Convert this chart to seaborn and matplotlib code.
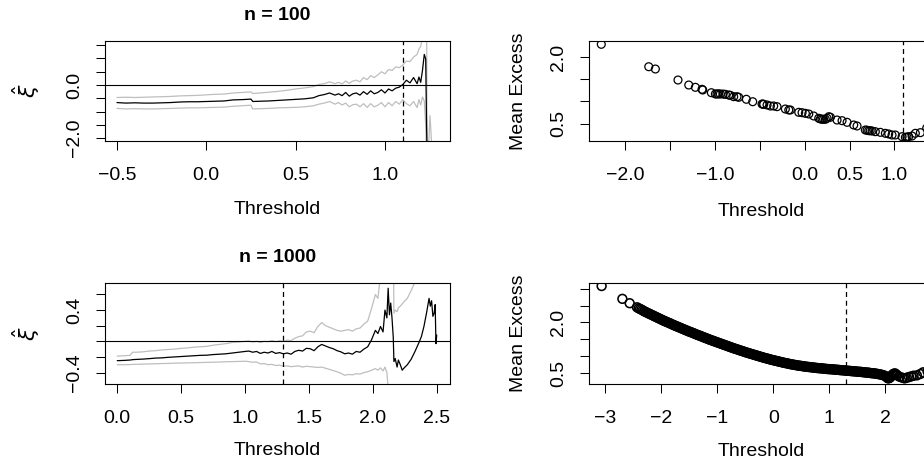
import matplotlib
matplotlib.use("Agg")
import matplotlib.pyplot as plt
import seaborn as sns

# ---------------- data: n = 100, shape-parameter stability ----------------
thr100 = [-0.50, -0.45, -0.40, -0.35, -0.30, -0.25, -0.20, -0.15, -0.10, -0.05,
          0.00, 0.05, 0.10, 0.15, 0.20, 0.25, 0.26, 0.30, 0.35, 0.40,
          0.45, 0.50, 0.55, 0.60, 0.63, 0.66, 0.69, 0.72, 0.74, 0.76,
          0.78, 0.80, 0.82, 0.84, 0.86, 0.88, 0.90, 0.92, 0.94, 0.96,
          0.98, 1.00, 1.02, 1.04, 1.06, 1.08, 1.10, 1.12, 1.14, 1.16,
          1.18, 1.19, 1.20, 1.21, 1.22, 1.228, 1.233, 1.236, 1.252, 1.268,
          1.29]
xi100 = [-0.66, -0.68, -0.67, -0.68, -0.68, -0.67, -0.66, -0.64, -0.63, -0.63,
         -0.62, -0.61, -0.60, -0.56, -0.55, -0.53, -0.62, -0.61, -0.60, -0.58,
         -0.56, -0.54, -0.52, -0.48, -0.40, -0.36, -0.30, -0.38, -0.33, -0.40,
         -0.28, -0.42, -0.33, -0.30, -0.38, -0.25, -0.35, -0.22, -0.33, -0.28,
         -0.18, -0.30, -0.15, -0.22, -0.12, -0.08, 0.02, 0.18, 0.08, 0.28,
         0.05, 0.30, 0.10, 0.55, 1.15, 0.98, -1.60, -2.60, -3.50, -4.00,
         -4.50]
up100 = [-0.47, -0.46, -0.47, -0.46, -0.45, -0.44, -0.43, -0.41, -0.40, -0.39,
         -0.37, -0.35, -0.34, -0.30, -0.28, -0.26, -0.32, -0.30, -0.27, -0.24,
         -0.20, -0.15, -0.11, -0.06, 0.02, 0.05, 0.12, 0.05, 0.10, 0.04,
         0.15, 0.06, 0.15, 0.18, 0.12, 0.28, 0.20, 0.35, 0.28, 0.38,
         0.50, 0.42, 0.58, 0.55, 0.68, 0.65, 0.75, 0.90, 0.88, 1.05,
         1.15, 1.35, 1.45, 1.80, 2.40, 2.60, 2.80, -3.50, -1.15, -3.00,
         -4.00]
lo100 = [-0.88, -0.90, -0.89, -0.90, -0.90, -0.89, -0.88, -0.87, -0.86, -0.86,
         -0.85, -0.84, -0.83, -0.80, -0.78, -0.76, -0.90, -0.89, -0.88, -0.86,
         -0.85, -0.84, -0.82, -0.78, -0.72, -0.68, -0.62, -0.72, -0.66, -0.75,
         -0.68, -0.82, -0.74, -0.72, -0.82, -0.70, -0.84, -0.70, -0.82, -0.76,
         -0.66, -0.82, -0.66, -0.78, -0.62, -0.72, -0.55, -0.70, -0.78, -0.62,
         -0.85, -0.55, -0.75, -0.45, -0.60, -1.50, -3.00, -4.00, -5.00, -5.50,
         -6.00]
u0_100 = 1.10

# ---------------- data: n = 100, mean excess ----------------
me100_u = [-2.268, -1.739, -1.665, -1.413, -1.293, -1.219, -1.145, -1.137, -1.041, -0.996,
           -0.978, -0.960, -0.941, -0.910, -0.885, -0.848, -0.830, -0.792, -0.755, -0.736,
           -0.651, -0.580, -0.476, -0.465, -0.457, -0.420, -0.383, -0.346, -0.309, -0.216,
           -0.178, -0.160, -0.067, -0.030, 0.007, 0.045, 0.100, 0.156, 0.175, 0.193,
           0.210, 0.230, 0.249, 0.268, 0.286, 0.360, 0.416, 0.472, 0.546, 0.583,
           0.676, 0.695, 0.713, 0.730, 0.750, 0.787, 0.843, 0.899, 0.936, 0.973,
           1.010, 1.085, 1.122, 1.140, 1.159, 1.196, 1.233, 1.289, 1.360]
me100_e = [2.294, 1.787, 1.735, 1.486, 1.373, 1.321, 1.276, 1.260, 1.199, 1.170,
           1.170, 1.172, 1.170, 1.168, 1.162, 1.147, 1.140, 1.109, 1.109, 1.095,
           1.050, 0.995, 0.943, 0.940, 0.936, 0.921, 0.898, 0.898, 0.883, 0.830,
           0.808, 0.808, 0.755, 0.747, 0.732, 0.717, 0.672, 0.620, 0.605, 0.597,
           0.600, 0.597, 0.620, 0.656, 0.643, 0.581, 0.566, 0.529, 0.468, 0.446,
           0.355, 0.350, 0.340, 0.338, 0.333, 0.317, 0.302, 0.280, 0.265, 0.242,
           0.242, 0.204, 0.189, 0.195, 0.204, 0.219, 0.280, 0.295, 0.400]

# ---------------- data: n = 1000, shape-parameter stability ----------------
thr1000 = [0.00, 0.05, 0.10, 0.12, 0.15, 0.20, 0.25, 0.30, 0.35, 0.40,
           0.45, 0.50, 0.55, 0.60, 0.65, 0.70, 0.75, 0.80, 0.85, 0.90,
           0.95, 1.00, 1.03, 1.06, 1.09, 1.12, 1.15, 1.18, 1.21, 1.24,
           1.27, 1.30, 1.33, 1.36, 1.39, 1.42, 1.45, 1.48, 1.51, 1.54,
           1.57, 1.60, 1.63, 1.66, 1.69, 1.72, 1.75, 1.78, 1.81, 1.84,
           1.87, 1.90, 1.93, 1.96, 1.99, 2.02, 2.04, 2.06, 2.08, 2.095,
           2.11, 2.12, 2.13, 2.14, 2.15, 2.16, 2.165, 2.175, 2.19, 2.20,
           2.215, 2.23, 2.24, 2.27, 2.30, 2.33, 2.36, 2.38, 2.40, 2.42,
           2.44, 2.45, 2.46, 2.47, 2.48, 2.488, 2.494, 2.50]
xi1000 = [-0.248, -0.245, -0.240, -0.235, -0.232, -0.228, -0.222, -0.215, -0.212, -0.205,
          -0.200, -0.195, -0.190, -0.185, -0.180, -0.178, -0.170, -0.165, -0.160, -0.150,
          -0.140, -0.130, -0.125, -0.140, -0.130, -0.155, -0.140, -0.150, -0.130, -0.155,
          -0.145, -0.160, -0.150, -0.165, -0.130, -0.115, -0.125, -0.090, -0.095, -0.120,
          -0.070, -0.040, -0.060, -0.080, -0.095, -0.120, -0.135, -0.160, -0.150, -0.165,
          -0.130, -0.140, -0.100, -0.070, 0.020, 0.140, 0.100, 0.190, 0.120, 0.400,
          0.300, 0.680, 0.340, 0.490, 0.300, 0.050, -0.260, -0.220, -0.330, -0.240,
          -0.300, -0.370, -0.350, -0.300, -0.230, -0.130, -0.020, 0.060, 0.190, 0.360,
          0.550, 0.450, 0.520, 0.320, 0.360, 0.470, -0.030, 0.080]
up1000 = [-0.190, -0.185, -0.180, -0.140, -0.140, -0.135, -0.125, -0.120, -0.110, -0.105,
          -0.100, -0.090, -0.085, -0.075, -0.070, -0.065, -0.050, -0.040, -0.030, -0.015,
          -0.010, 0.000, 0.005, -0.010, 0.000, -0.015, 0.000, -0.005, 0.010, -0.005,
          0.008, 0.000, 0.015, 0.010, 0.040, 0.060, 0.070, 0.120, 0.130, 0.110,
          0.190, 0.240, 0.200, 0.180, 0.160, 0.140, 0.130, 0.140, 0.150, 0.130,
          0.160, 0.170, 0.220, 0.260, 0.420, 0.600, 0.550, 0.850, 1.200, 2.500,
          2.000, 3.000, 2.000, 2.500, 2.000, 1.500, 0.360, 0.400, 0.380, 0.430,
          0.450, 0.480, 0.500, 0.550, 0.650, 0.760, 0.950, 1.100, 1.300, 1.600,
          2.000, 1.900, 2.000, 1.700, 1.800, 1.900, 1.000, 1.200]
lo1000 = [-0.300, -0.300, -0.298, -0.296, -0.295, -0.292, -0.290, -0.288, -0.285, -0.283,
          -0.280, -0.278, -0.276, -0.275, -0.272, -0.270, -0.268, -0.265, -0.262, -0.260,
          -0.258, -0.255, -0.260, -0.268, -0.265, -0.290, -0.285, -0.300, -0.295, -0.310,
          -0.305, -0.320, -0.315, -0.325, -0.320, -0.315, -0.330, -0.320, -0.325, -0.330,
          -0.335, -0.330, -0.345, -0.360, -0.375, -0.390, -0.410, -0.435, -0.425, -0.430,
          -0.415, -0.420, -0.400, -0.390, -0.370, -0.350, -0.370, -0.340, -0.380, -0.330,
          -0.400, -0.600, -0.900, -1.100, -1.200, -1.300, -1.400, -1.500, -1.600, -1.700,
          -1.800, -1.900, -2.000, -2.100, -2.200, -2.300, -2.400, -2.500, -2.600, -2.700,
          -2.800, -2.900, -3.000, -3.100, -3.200, -3.300, -3.400, -3.500]
u0_1000 = 1.30

# ---------------- data: n = 1000, mean excess ----------------
me1000_u = [-3.06, -2.69, -2.56, -2.43,
            -2.400, -2.375, -2.350, -2.325, -2.300, -2.275, -2.250, -2.225, -2.200, -2.175,
            -2.150, -2.125, -2.100, -2.075, -2.050, -2.025, -2.000, -1.975, -1.950, -1.925,
            -1.900, -1.875, -1.850, -1.825, -1.800, -1.775, -1.750, -1.725, -1.700, -1.675,
            -1.650, -1.625, -1.600, -1.575, -1.550, -1.525, -1.500, -1.475, -1.450, -1.425,
            -1.400, -1.375, -1.350, -1.325, -1.300, -1.275, -1.250, -1.225, -1.200, -1.175,
            -1.150, -1.125, -1.100, -1.075, -1.050, -1.025, -1.000, -0.975, -0.950, -0.925,
            -0.900, -0.875, -0.850, -0.825, -0.800, -0.775, -0.750, -0.725, -0.700, -0.675,
            -0.650, -0.625, -0.600, -0.575, -0.550, -0.525, -0.500, -0.475, -0.450, -0.425,
            -0.400, -0.375, -0.350, -0.325, -0.300, -0.275, -0.250, -0.225, -0.200, -0.175,
            -0.150, -0.125, -0.100, -0.075, -0.050, -0.025, 0.000, 0.025, 0.050, 0.075,
            0.100, 0.125, 0.150, 0.175, 0.200, 0.225, 0.250, 0.275, 0.300, 0.325,
            0.350, 0.375, 0.400, 0.425, 0.450, 0.475, 0.500, 0.525, 0.550, 0.575,
            0.600, 0.625, 0.650, 0.675, 0.700, 0.725, 0.750, 0.775, 0.800, 0.825,
            0.850, 0.875, 0.900, 0.925, 0.950, 0.975, 1.000, 1.025, 1.050, 1.075,
            1.100, 1.125, 1.150, 1.175, 1.200, 1.225, 1.250, 1.275, 1.300, 1.325,
            1.350, 1.375, 1.400, 1.425, 1.450, 1.475, 1.500, 1.525, 1.550, 1.575,
            1.600, 1.625, 1.650, 1.675, 1.700, 1.725, 1.750, 1.775, 1.800, 1.825,
            1.850, 1.875, 1.900, 1.925, 1.950, 1.975, 2.000,
            2.02, 2.04, 2.05, 2.07, 2.09, 2.11, 2.13, 2.15, 2.17, 2.19,
            2.21, 2.25, 2.30, 2.34, 2.38, 2.42, 2.46, 2.50, 2.56, 2.62,
            2.67, 2.75]
me1000_e = [3.08, 2.70, 2.57, 2.45,
            2.420, 2.400, 2.380, 2.355, 2.330, 2.310, 2.290, 2.270, 2.250, 2.230,
            2.210, 2.190, 2.170, 2.150, 2.130, 2.110, 2.090, 2.070, 2.050, 2.032,
            2.015, 1.997, 1.980, 1.960, 1.940, 1.922, 1.905, 1.887, 1.870, 1.852,
            1.835, 1.817, 1.800, 1.782, 1.765, 1.747, 1.730, 1.715, 1.700, 1.682,
            1.665, 1.647, 1.630, 1.615, 1.600, 1.582, 1.565, 1.550, 1.535, 1.517,
            1.500, 1.485, 1.470, 1.455, 1.440, 1.425, 1.410, 1.395, 1.380, 1.365,
            1.350, 1.335, 1.320, 1.305, 1.290, 1.275, 1.260, 1.245, 1.230, 1.217,
            1.205, 1.190, 1.175, 1.162, 1.150, 1.135, 1.120, 1.107, 1.095, 1.082,
            1.070, 1.057, 1.045, 1.032, 1.020, 1.007, 0.995, 0.982, 0.970, 0.957,
            0.945, 0.935, 0.925, 0.912, 0.900, 0.890, 0.880, 0.870, 0.860, 0.850,
            0.840, 0.830, 0.820, 0.810, 0.800, 0.792, 0.785, 0.775, 0.765, 0.757,
            0.750, 0.742, 0.735, 0.727, 0.720, 0.715, 0.710, 0.702, 0.695, 0.690,
            0.685, 0.680, 0.675, 0.670, 0.665, 0.660, 0.655, 0.650, 0.645, 0.642,
            0.640, 0.635, 0.630, 0.625, 0.620, 0.617, 0.615, 0.612, 0.610, 0.605,
            0.600, 0.597, 0.595, 0.590, 0.585, 0.582, 0.580, 0.575, 0.570, 0.567,
            0.565, 0.560, 0.555, 0.552, 0.550, 0.545, 0.540, 0.537, 0.535, 0.530,
            0.525, 0.520, 0.515, 0.512, 0.510, 0.502, 0.495, 0.492, 0.490, 0.482,
            0.475, 0.467, 0.460, 0.450, 0.440, 0.425, 0.410,
            0.38, 0.35, 0.34, 0.35, 0.38, 0.42, 0.46, 0.48, 0.49, 0.46,
            0.43, 0.39, 0.36, 0.34, 0.36, 0.38, 0.40, 0.42, 0.43, 0.47,
            0.52, 0.55]

# ---------------- figure ----------------
sns.set_theme(style="white")
plt.rcParams['font.family'] = ['Liberation Sans', 'DejaVu Sans']
plt.rcParams['axes.unicode_minus'] = True
plt.rcParams['mathtext.fontset'] = 'dejavusans'

W, H = 924, 466
fig = plt.figure(figsize=(W / 100, H / 100), dpi=100)
fig.patch.set_facecolor('white')


def add_axes(l, t, r, b):
    return fig.add_axes([l / W, 1 - b / H, (r - l) / W, (b - t) / H])


FS = 14
GREY = '#bebebe'


def style(ax, xlim, ylim, xticks, xlabels, yticks, ylabels, ylabel, ylab_x, xlab_y, ylab_fs=FS):
    ax.set_xlim(xlim)
    ax.set_ylim(ylim)
    ax.set_xticks(xticks)
    ax.set_xticklabels(xlabels)
    ax.set_yticks(yticks)
    ax.set_yticklabels(ylabels, rotation=90, va='center')
    ax.tick_params(axis='both', direction='out', length=6.5, width=0.75,
                   labelsize=FS, colors='black', bottom=True, left=True,
                   top=False, right=False)
    ax.tick_params(axis='x', pad=12)
    ax.tick_params(axis='y', pad=9)
    for s in ax.spines.values():
        s.set_visible(True)
        s.set_color('black')
        s.set_linewidth(0.8)
    ax.set_facecolor('white')
    ax.set_xlabel('Threshold', fontsize=FS, color='black')
    ax.xaxis.label.set_verticalalignment('center')
    ax.xaxis.set_label_coords(0.5, xlab_y)
    ax.set_ylabel(ylabel, fontsize=ylab_fs, color='black')
    ax.yaxis.label.set_verticalalignment('center')
    ax.yaxis.set_label_coords(ylab_x, 0.5)


def xi_panel(ax, thr, xi, up, lo, u0, title):
    sns.lineplot(x=thr, y=up, ax=ax, color=GREY, lw=0.9, sort=False, estimator=None)
    sns.lineplot(x=thr, y=lo, ax=ax, color=GREY, lw=0.9, sort=False, estimator=None)
    sns.lineplot(x=thr, y=xi, ax=ax, color='black', lw=0.9, sort=False, estimator=None)
    ax.axhline(0, color='black', lw=0.8)
    ax.axvline(u0, color='black', lw=0.9, ls=(0, (4, 3)))
    ax.set_title(title, fontsize=FS, fontweight='bold', pad=15, color='black')


def me_panel(ax, u, e, u0, size=32, lw=0.9):
    sns.scatterplot(x=u, y=e, ax=ax, marker='o', s=size, facecolor='none',
                    edgecolor='black', linewidth=lw, legend=False)
    ax.axvline(u0, color='black', lw=0.9, ls=(0, (4, 3)))


# top-left
ax1 = add_axes(105, 41, 450, 141)
xi_panel(ax1, thr100, xi100, up100, lo100, u0_100, 'n = 100')
style(ax1, (-0.567, 1.364), (-2.105, 1.654),
      [-0.5, 0.0, 0.5, 1.0], ['\u22120.5', '0.0', '0.5', '1.0'],
      [-2.0, -1.5, -1.0, -0.5, 0.0, 0.5, 1.0, 1.5],
      ['\u22122.0', '', '', '', '0.0', '', '', ''],
      r'$\hat{\xi}$', -0.229, -0.69, ylab_fs=16)

# top-right
ax2 = add_axes(589, 41, 934, 141)
me_panel(ax2, me100_u, me100_e, u0_100)
style(ax2, (-2.405, 1.441), (0.106, 2.369),
      [-2.0, -1.5, -1.0, -0.5, 0.0, 0.5, 1.0],
      ['\u22122.0', '', '\u22121.0', '', '0.0', '0.5', '1.0'],
      [0.5, 1.0, 1.5, 2.0], ['0.5', '', '', '2.0'],
      'Mean Excess', -0.203, -0.70)

# bottom-left
ax3 = add_axes(105, 283, 450, 384)
xi_panel(ax3, thr1000, xi1000, up1000, lo1000, u0_1000, 'n = 1000')
style(ax3, (-0.096, 2.604), (-0.547, 0.747),
      [0.0, 0.5, 1.0, 1.5, 2.0, 2.5], ['0.0', '0.5', '1.0', '1.5', '2.0', '2.5'],
      [-0.4, -0.2, 0.0, 0.2, 0.4, 0.6], ['\u22120.4', '', '', '', '0.4', ''],
      r'$\hat{\xi}$', -0.229, -0.66, ylab_fs=16)

# bottom-right
ax4 = add_axes(589, 283, 934, 384)
me_panel(ax4, me1000_u, me1000_e, u0_1000, size=40, lw=1.15)
style(ax4, (-3.285, 2.865), (0.174, 3.17),
      [-3, -2, -1, 0, 1, 2], ['\u22123', '\u22122', '\u22121', '0', '1', '2'],
      [0.5, 1.0, 1.5, 2.0, 2.5, 3.0], ['0.5', '', '', '2.0', '', ''],
      'Mean Excess', -0.203, -0.67)

fig.savefig('out.png', dpi=100, facecolor='white')
